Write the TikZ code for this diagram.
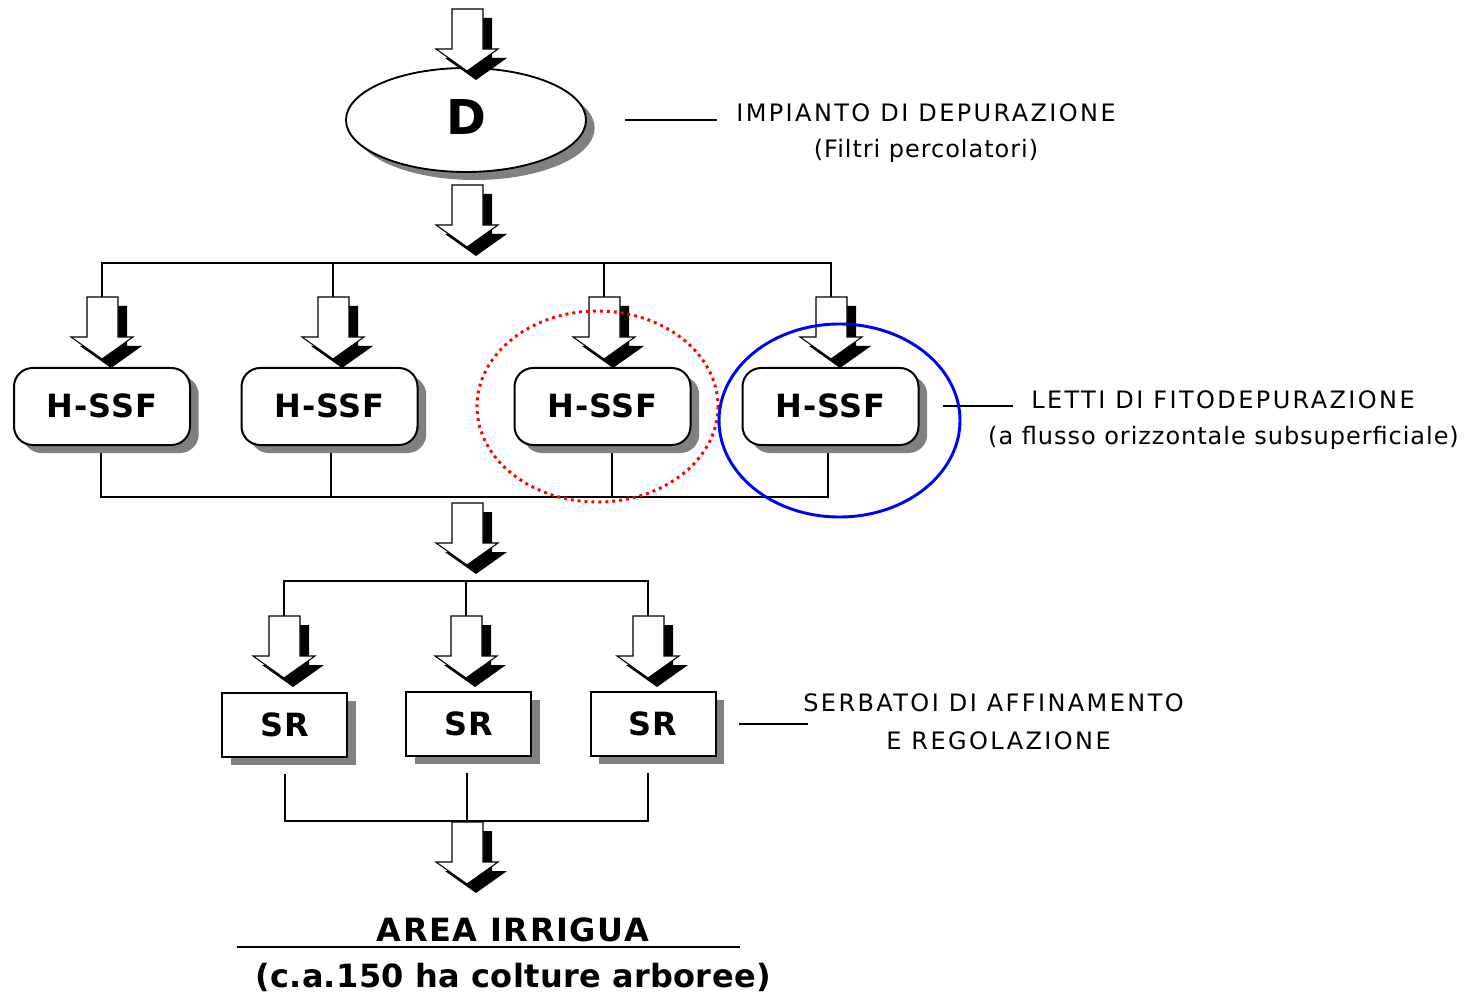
\documentclass[tikz,border=0pt]{standalone}
\usepackage{fontspec}
\setmainfont{DejaVu Sans}
\newfontfamily\capsfont[LetterSpace=10]{DejaVu Sans}
\newfontfamily\lowfont[LetterSpace=4]{DejaVu Sans}
\newfontfamily\areafont[LetterSpace=5]{DejaVu Sans}
\newfontfamily\noteafont[LetterSpace=1]{DejaVu Sans}
\newfontfamily\boxfont[LetterSpace=3]{DejaVu Sans}
\usetikzlibrary{shapes.geometric,shadows,backgrounds}
\tikzset{
  conn/.style={line width=1.5pt},
  lbl/.style={line width=1.1pt},
  shad/.style={drop shadow={shadow xshift=6.5pt,shadow yshift=-6pt,fill=black!50,opacity=1}},
  dnode/.style={ellipse,draw,line width=1.4pt,fill=white,minimum width=180pt,minimum height=78pt,inner sep=0pt,shad,font=\bfseries\fontsize{36}{40}\selectfont},
  hbox/.style={draw,line width=1.5pt,fill=white,rounded corners=14pt,minimum width=132pt,minimum height=57.75pt,inner sep=0pt,shad,font=\boxfont\bfseries\fontsize{24}{28}\selectfont},
  sbox/.style={draw,line width=1.5pt,fill=white,minimum width=93.75pt,minimum height=48pt,inner sep=0pt,shad,font=\boxfont\bfseries\fontsize{24}{28}\selectfont},
  captxt/.style={anchor=base,inner sep=0pt,font=\capsfont\fontsize{18}{22}\selectfont},
  lowtxt/.style={anchor=base,inner sep=0pt,font=\lowfont\fontsize{18}{22}\selectfont},
  areatxt/.style={anchor=base,inner sep=0pt,font=\areafont\bfseries\fontsize{24}{28}\selectfont},
  notetxt/.style={anchor=base,inner sep=0pt,font=\noteafont\bfseries\fontsize{24}{28}\selectfont},
  flowarrow/.pic={
    \fill[black] (-6,9) -- (25,9) -- (25,49) -- (40,49) -- (9,71) -- (-22,49) -- (-6,49) -- cycle;
    \filldraw[fill=white,draw=black,line width=0.8pt] (-15,0) -- (16,0) -- (16,40) -- (31,40) -- (0,62) -- (-31,40) -- (-15,40) -- cycle;
    \coordinate (-top) at (0,0);
    \coordinate (-tip) at (0,62);
  }
}
\begin{document}
\begin{tikzpicture}[x=0.75pt,y=-0.75pt]
\useasboundingbox (0,0) rectangle (1473,994);

% main nodes
\node[dnode] (D) at (466,120) {\raisebox{5pt}{D}};
\node[hbox] (h1) at (102,406.5) {\raisebox{2pt}{H-SSF}};
\node[hbox] (h2) at (329.5,406.5) {\raisebox{2pt}{H-SSF}};
\node[hbox] (h3) at (602.5,406.5) {\raisebox{2pt}{H-SSF}};
\node[hbox] (h4) at (830.5,406.5) {\raisebox{2pt}{H-SSF}};
\node[sbox] (s1) at (284.5,725) {SR};
\node[sbox] (s2) at (468.5,724) {SR};
\node[sbox] (s3) at (653,724) {SR};

% bus coordinates
\coordinate (tb) at (467,263);
\coordinate (hb) at (467,497);
\coordinate (sb) at (467,581);
\coordinate (bb) at (467,821);

% block arrows
\pic (a0) at (467,9) {flowarrow};
\pic (a1) at (467,185) {flowarrow};
\pic (ah1) at (102,297) {flowarrow};
\pic (ah2) at (333,297) {flowarrow};
\pic (ah3) at (604,297) {flowarrow};
\pic (ah4) at (831,297) {flowarrow};
\pic (am) at (467,503) {flowarrow};
\pic (as1) at (284,616) {flowarrow};
\pic (as2) at (466,616) {flowarrow};
\pic (as3) at (648,616) {flowarrow};
\pic (ae) at (467,822) {flowarrow};

% outlet points under the boxes
\coordinate (h1o) at ([xshift=-0.75pt]h1.south);
\coordinate (h2o) at ([xshift=1.1pt]h2.south);
\coordinate (h3o) at ([xshift=7.1pt]h3.south);
\coordinate (h4o) at ([xshift=-1.9pt]h4.south);
\coordinate (s1o) at ([yshift=-12pt]s1.south);
\coordinate (s2o) at ([xshift=-1.1pt,yshift=-12pt]s2.south);
\coordinate (s3o) at ([xshift=-3.75pt,yshift=-12pt]s3.south);

% connectors (behind)
\begin{pgfonlayer}{background}
\draw[conn] (ah1-top) -- (ah1-top |- tb) -- (ah4-top |- tb) -- (ah4-top);
\draw[conn] (ah2-top) -- (ah2-top |- tb);
\draw[conn] (ah3-top) -- (ah3-top |- tb);
\draw[conn] (h1o) -- (h1o |- hb) -- (h4o |- hb) -- (h4o);
\draw[conn] (h2o) -- (h2o |- hb);
\draw[conn] (h3o) -- (h3o |- hb);
\draw[conn] (as1-top) -- (as1-top |- sb) -- (as3-top |- sb) -- (as3-top);
\draw[conn] (as2-top) -- (as2-top |- sb);
\draw[conn] (s1o) -- (s1o |- bb) -- (s3o |- bb) -- (s3o);
\draw[conn] (s2o) -- (s2o |- bb);
\end{pgfonlayer}

% side labels
\coordinate (l1a) at (625,120); \coordinate (l1b) at (717,120);
\draw[lbl] (l1a) -- (l1b);
\node[captxt] (t1) at (926,121.7) {IMPIANTO DI DEPURAZIONE};
\node[lowtxt] (t1b) at (926,158) {(Filtri percolatori)};
\coordinate (l2a) at (943,406); \coordinate (l2b) at (1013,406);
\draw[lbl] (l2a) -- (l2b);
\node[captxt] (t2) at (1223,408.7) {LETTI DI FITODEPURAZIONE};
\node[lowtxt] (t2b) at (1223.5,445) {(a flusso orizzontale subsuperficiale)};
\coordinate (l3a) at (739,724); \coordinate (l3b) at (808,724);
\draw[lbl] (l3a) -- (l3b);
\node[captxt] (t3) at (993.5,711.7) {SERBATOI DI AFFINAMENTO};
\node[captxt] (t3b) at (998.5,749.7) {E REGOLAZIONE};

% bottom
\node[areatxt] (area) at (513,941) {AREA IRRIGUA};
\coordinate (ul1) at (237,947); \coordinate (ul2) at (740,947);
\draw[conn] (ul1) -- (ul2);
\node[notetxt] (area2) at (513,987) {(c.a.150 ha colture arboree)};

% highlight rings
\draw[red,line width=2.2pt,dash pattern=on 2.2pt off 3pt] (597.5,406.5) ellipse [x radius=120.5, y radius=95.5];
\draw[blue,line width=2.2pt] (839.5,420.5) ellipse [x radius=120.5, y radius=96.5];
\end{tikzpicture}
\end{document}
